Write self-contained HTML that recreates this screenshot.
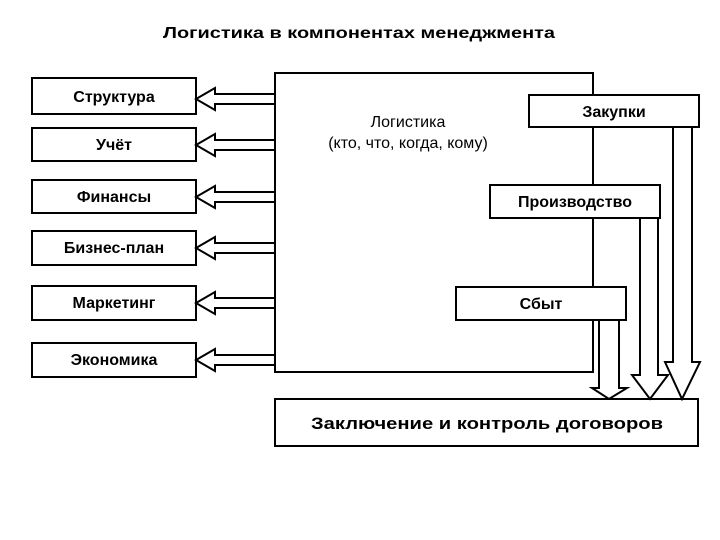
<!DOCTYPE html>
<html><head><meta charset="utf-8"><style>
html,body{margin:0;padding:0;background:#fff;}
svg{display:block;}
text{font-family:"Liberation Sans",Arial,sans-serif;fill:#000;}
</style></head><body>
<svg width="720" height="540" viewBox="0 0 720 540" xmlns="http://www.w3.org/2000/svg">
<rect width="720" height="540" fill="#fff"/>
<text x="359" y="38" font-size="15.5" font-weight="bold" text-anchor="middle" textLength="392" lengthAdjust="spacingAndGlyphs">Логистика в компонентах менеджмента</text>

<g fill="#fff" stroke="#000" stroke-width="2">
<rect x="275" y="73" width="318" height="299"/>
<rect x="32" y="78" width="164" height="36"/>
<rect x="32" y="128" width="164" height="33"/>
<rect x="32" y="180" width="164" height="33"/>
<rect x="32" y="231" width="164" height="34"/>
<rect x="32" y="286" width="164" height="34"/>
<rect x="32" y="343" width="164" height="34"/>
<rect x="529" y="95" width="170" height="32"/>
<rect x="490" y="185" width="170" height="33"/>
<rect x="456" y="287" width="170" height="33"/>
<rect x="275" y="399" width="423" height="47"/>
<polygon points="196,99 215,88 215,94 275,94 275,104 215,104 215,110"/>
<polygon points="196,145 215,134 215,140 275,140 275,150 215,150 215,156"/>
<polygon points="196,197 215,186 215,192 275,192 275,202 215,202 215,208"/>
<polygon points="196,248 215,237 215,243 275,243 275,253 215,253 215,259"/>
<polygon points="196,303 215,292 215,298 275,298 275,308 215,308 215,314"/>
<polygon points="196,360 215,349 215,355 275,355 275,365 215,365 215,371"/>
<polygon points="599,320 619,320 619,388 627,388 609,399 592,388 599,388"/>
<polygon points="640,218 658,218 658,375 668,375 650,399 632,375 640,375"/>
<polygon points="673,127 692,127 692,362 700,362 682,399 665,362 673,362"/>
</g>

<g font-size="16" font-weight="bold" text-anchor="middle">
<text x="114" y="102">Структура</text>
<text x="114" y="150">Учёт</text>
<text x="114" y="202">Финансы</text>
<text x="114" y="253">Бизнес-план</text>
<text x="114" y="308">Маркетинг</text>
<text x="114" y="365">Экономика</text>
<text x="614" y="117">Закупки</text>
<text x="575" y="207">Производство</text>
<text x="541" y="309">Сбыт</text>
<text x="487" y="429" font-size="17" textLength="352" lengthAdjust="spacingAndGlyphs">Заключение и контроль договоров</text>
</g>
<g font-size="16" text-anchor="middle">
<text x="408" y="127">Логистика</text>
<text x="408" y="148">(кто, что, когда, кому)</text>
</g>
</svg>
</body></html>
